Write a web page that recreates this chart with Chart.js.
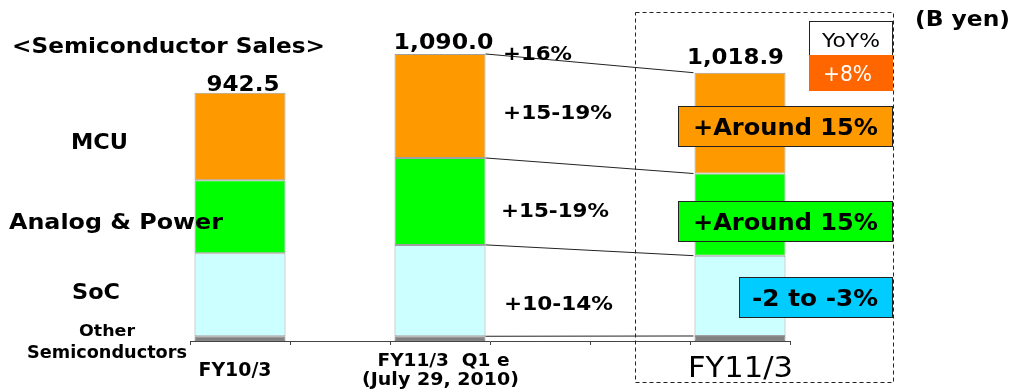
<!DOCTYPE html>
<html>
<head>
<meta charset="utf-8">
<script src="https://cdn.jsdelivr.net/npm/chart.js@4.4.1/dist/chart.umd.min.js"></script>
<style>
  html, body { margin: 0; padding: 0; background: #ffffff; }
  #wrap { width: 1015px; height: 391px; position: relative; }
</style>
</head>
<body>
<div id="wrap"><canvas id="c"></canvas></div>
<script>
// Semiconductor sales by product line (B yen); blank slots keep the spacing between periods
const categories = ['FY10/3', '', 'FY11/3  Q1 e', '', '', 'FY11/3'];
const categorySubLabels = ['', '', '(July 29, 2010)', '', '', ''];
const otherSemis  = [18,    null, 18,  null, null, 19];
const socSales    = [315,   null, 347, null, null, 305];
const analogPower = [277,   null, 330, null, null, 312];
const mcuSales    = [332.5, null, 395, null, null, 382.9];

// Growth notes: Q1 forecast vs FY10/3 (total, MCU, Analog & Power, SoC) and full-year outlook
const q1Growth = ['+16%', '+15-19%', '+15-19%', '+10-14%'];
const fyOutlook = ['+Around 15%', '+Around 15%', '-2 to -3%'];
const fyTotalYoY = '+8%';

const FONT = '"DejaVu Sans", Verdana, sans-serif';

// Draw a string starting at `left` on `base`, squeezed/stretched to `width`
function fitText(ctx, str, left, base, width, font, color) {
  ctx.save();
  ctx.font = font;
  ctx.fillStyle = color;
  ctx.textAlign = 'left';
  ctx.textBaseline = 'alphabetic';
  const w = ctx.measureText(str).width;
  ctx.translate(left, base);
  ctx.scale(width / w, 1);
  ctx.fillText(str, 0, 0);
  ctx.restore();
}

function centerText(ctx, str, cx, base, width, font, color) {
  fitText(ctx, str, cx - width / 2, base, width, font, color);
}

function box(ctx, x, y, w, h, fill, stroke) {
  ctx.save();
  ctx.fillStyle = fill;
  ctx.fillRect(x, y, w, h);
  if (stroke) {
    ctx.strokeStyle = stroke;
    ctx.lineWidth = 1;
    ctx.strokeRect(x + 0.5, y + 0.5, w - 1, h - 1);
  }
  ctx.restore();
}

const annotations = {
  id: 'annotations',
  afterDraw(chart) {
    const ctx = chart.ctx;
    const xs = chart.scales.x;
    const ys = chart.scales.y;
    const series = chart.data.datasets;

    // connectors between the Q1 estimate bar and the full-year bar
    const from = 2, to = 5;
    const barFrom = chart.getDatasetMeta(0).data[from];
    const barTo = chart.getDatasetMeta(0).data[to];
    const xA = barFrom.x + barFrom.width / 2;
    const xB = barTo.x - barTo.width / 2 - 1;
    let cumA = 0, cumB = 0;
    ctx.save();
    ctx.strokeStyle = '#222';
    ctx.lineWidth = 1;
    series.forEach(ds => {
      cumA += ds.data[from];
      cumB += ds.data[to];
      ctx.beginPath();
      ctx.moveTo(xA, ys.getPixelForValue(cumA));
      ctx.lineTo(xB, ys.getPixelForValue(cumB));
      ctx.stroke();
    });
    ctx.restore();

    // totals above bars
    const bold = s => 'bold ' + s + 'px ' + FONT;
    const totalOffsets = { 0: [3, 2, 73], 2: [3.5, 5, 100], 5: [-4.5, 9, 97] };
    Object.keys(totalOffsets).forEach(k => {
      const i = +k;
      let sum = 0;
      series.forEach(ds => { sum += ds.data[i]; });
      const top = ys.getPixelForValue(sum);
      const [dx, dy, w] = totalOffsets[k];
      const txt = sum.toLocaleString('en-US', { minimumFractionDigits: 1, maximumFractionDigits: 1 });
      centerText(ctx, txt, xs.getPixelForValue(i) + dx, top - dy, w, bold(20.5), '#000');
    });

    // category labels
    centerText(ctx, categories[0], xs.getPixelForValue(0) - 5, 376, 73, bold(19), '#000');
    centerText(ctx, categories[2], xs.getPixelForValue(2) + 3.5, 366, 132, bold(18), '#000');
    centerText(ctx, categorySubLabels[2], xs.getPixelForValue(2) + 0.5, 385, 157, bold(18), '#000');
    centerText(ctx, categories[5], xs.getPixelForValue(5) + 0.5, 377, 105, '27.5px ' + FONT, '#000');

    // series names on the left
    fitText(ctx, '<Semiconductor Sales>', 12, 53, 313, bold(20.5), '#000');
    fitText(ctx, series[3].label, 71, 149, 57, bold(21), '#000');
    fitText(ctx, series[2].label, 9, 229, 214, bold(21), '#000');
    fitText(ctx, series[1].label, 72, 299, 48, bold(21), '#000');
    fitText(ctx, 'Other', 79, 336, 56, bold(16.5), '#000');
    fitText(ctx, 'Semiconductors', 27, 358, 160, bold(17.5), '#000');
    fitText(ctx, '(B yen)', 915, 26, 95, bold(20.5), '#000');

    // Q1 estimate growth notes
    fitText(ctx, q1Growth[0], 503, 60, 69, bold(19), '#000');
    fitText(ctx, q1Growth[1], 503, 119, 109, bold(19), '#000');
    fitText(ctx, q1Growth[2], 501, 217, 108, bold(19), '#000');
    fitText(ctx, q1Growth[3], 504, 310, 109, bold(19), '#000');

    // full-year frame
    ctx.save();
    ctx.strokeStyle = '#222';
    ctx.lineWidth = 1;
    ctx.setLineDash([4, 3]);
    ctx.strokeRect(635.5, 12.5, 258, 370);
    ctx.restore();

    // YoY legend
    box(ctx, 809, 21, 84, 35, '#ffffff', '#222');
    fitText(ctx, 'YoY%', 822, 47, 58, '20px ' + FONT, '#000');
    box(ctx, 809, 55, 84, 36, '#ff6600', null);
    fitText(ctx, fyTotalYoY, 823, 81, 49, '21px ' + FONT, '#ffffff');

    // full-year outlook boxes
    box(ctx, 678, 106, 215, 41, '#ff9900', '#222');
    fitText(ctx, fyOutlook[0], 693, 135, 185, bold(23), '#000');
    box(ctx, 678, 201, 215, 41, '#00ff00', '#222');
    fitText(ctx, fyOutlook[1], 693, 230, 185, bold(23), '#000');
    box(ctx, 739, 277, 154, 41, '#00ccff', '#222');
    fitText(ctx, fyOutlook[2], 752, 306, 126, bold(23), '#000');
  }
};

const barStyle = (label, data, fill, border) => ({
  label, data,
  backgroundColor: fill,
  borderColor: border,
  borderWidth: 1,
  borderSkipped: false,
  barPercentage: 0.91,
  categoryPercentage: 1.0
});

new Chart(document.getElementById('c'), {
  type: 'bar',
  data: {
    labels: categories,
    datasets: [
      barStyle('Other Semiconductors', otherSemis, '#808080', '#8a8a8a'),
      barStyle('SoC', socSales, '#ccffff', '#a0a0a0'),
      barStyle('Analog & Power', analogPower, '#00ff00', '#a0a0a0'),
      barStyle('MCU', mcuSales, '#ff9900', '#a0a0a0')
    ]
  },
  options: {
    responsive: true,
    maintainAspectRatio: false,
    animation: false,
    layout: { padding: { left: 190, right: 225, top: 25, bottom: 0 } },
    plugins: { legend: { display: false }, tooltip: { enabled: false } },
    scales: {
      x: {
        stacked: true,
        offset: true,
        grid: { display: true, drawOnChartArea: false, drawTicks: true, tickLength: 4, color: '#444', offset: true },
        border: { display: true, color: '#444', width: 1 },
        ticks: { display: false },
        afterFit(scale) { scale.height = 50; }
      },
      y: {
        stacked: true,
        display: false,
        min: 0,
        max: 1200
      }
    }
  },
  plugins: [annotations]
});
</script>
</body>
</html>
